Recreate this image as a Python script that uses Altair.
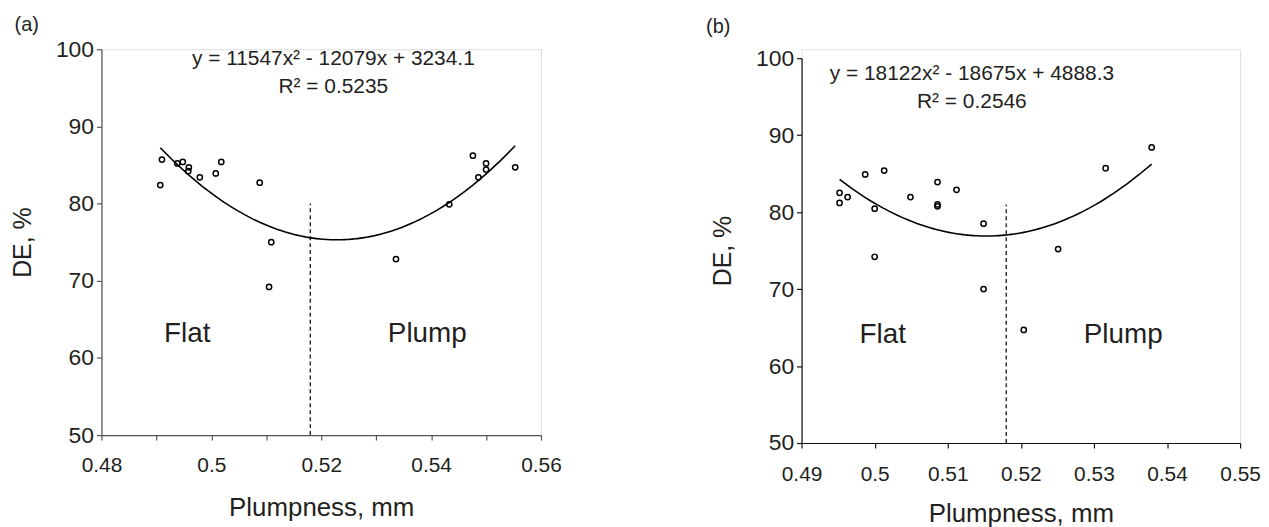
import altair as alt
import pandas as pd

# ---------------- data ----------------
# Panel (a)
a_x = [0.4910, 0.4907, 0.4938, 0.4948, 0.4959, 0.4958, 0.4979, 0.5008, 0.5018,
       0.5088, 0.5109, 0.5105, 0.5336, 0.5433, 0.5476, 0.5486, 0.5500, 0.5500, 0.5553]
a_y = [85.7, 82.4, 85.2, 85.4, 84.7, 84.2, 83.4, 83.9, 85.4,
       82.7, 75.0, 69.2, 72.8, 79.9, 86.2, 83.4, 85.2, 84.4, 84.7]
# Panel (b)
b_x = [0.4952, 0.4952, 0.4963, 0.4987, 0.5013, 0.5000, 0.5000, 0.5049, 0.5086,
       0.5086, 0.5086, 0.5112, 0.5149, 0.5149, 0.5204, 0.5251, 0.5316, 0.5379]
b_y = [82.5, 81.2, 81.95, 84.9, 85.4, 80.45, 74.2, 81.95, 83.9,
       81.0, 80.75, 82.9, 78.5, 70.0, 64.7, 75.2, 85.7, 88.4]

# divider (Flat / Plump boundary)
a_div = {"x": 0.518, "y": 50, "y2": 80}
b_div = {"x": 0.518, "y": 50, "y2": 81}

# axis ticks
a_xticks = [0.48, 0.485, 0.49, 0.495, 0.50, 0.505, 0.51, 0.515, 0.52, 0.525,
            0.53, 0.535, 0.54, 0.545, 0.55, 0.555, 0.56]
b_xticks = [0.49, 0.495, 0.50, 0.505, 0.51, 0.515, 0.52, 0.525, 0.53, 0.535,
            0.54, 0.545, 0.55]
y_ticks = [50, 60, 70, 80, 90, 100]

# annotations
a_eq = ["y = 11547x\u00b2 - 12079x + 3234.1", "R\u00b2 = 0.5235"]
b_eq = ["y = 18122x\u00b2 - 18675x + 4888.3", "R\u00b2 = 0.2546"]
a_eq_pos = {"x": [0.5222, 0.5222], "y": [98.7, 95.1]}
b_eq_pos = {"x": [0.5133, 0.5133], "y": [97.9, 94.3]}
regions = ["Flat", "Plump"]
a_reg_pos = {"x": [0.4956, 0.5393], "y": [63.1, 63.1]}
b_reg_pos = {"x": [0.5011, 0.5340], "y": [64.0, 64.0]}
a_tag = {"label": "(a)", "x": 0.4664, "y": 103.1}
b_tag = {"label": "(b)", "x": 0.4786, "y": 104.0}

FONT = "Liberation Sans"
INK = "#231f20"


def panel(xs, ys, div, xticks, step_mult, xdom, width, height, yrange,
          eq, eq_pos, reg_pos, tag, axis_col, lab_pad, tit_pad):
    df = pd.DataFrame({"x": xs, "y": ys})
    xscale = alt.Scale(domain=xdom, zero=False, nice=False)
    yscale = alt.Scale(domain=[50, 100], zero=False, nice=False, range=yrange)
    label_expr = ("(abs(datum.value*%d - round(datum.value*%d)) < 0.001) ? "
                  "format(datum.value, '.2~f') : ''" % (step_mult, step_mult))
    xaxis = alt.Axis(values=xticks, labelExpr=label_expr, title="Plumpness, mm",
                     grid=False, tickSize=5, labelFontSize=21, titleFontSize=26,
                     labelFont=FONT, titleFont=FONT, labelColor=INK, titleColor=INK,
                     titleFontWeight="normal", labelPadding=lab_pad, titlePadding=tit_pad,
                     labelFlush=False, labelOverlap=False, domainColor=axis_col,
                     tickColor=axis_col, domainWidth=1.2, tickWidth=1.2)
    yaxis = alt.Axis(values=y_ticks, title="DE, %", grid=False, tickSize=5,
                     labelFontSize=23, titleFontSize=25, labelFont=FONT, titleFont=FONT,
                     labelColor=INK, titleColor=INK, titleFontWeight="normal",
                     labelPadding=3, titlePadding=20, domainColor=axis_col,
                     tickColor=axis_col, domainWidth=1.2, tickWidth=1.2)

    pts = alt.Chart(df).mark_point(shape="circle", filled=False, color="black",
                                   size=28, strokeWidth=1.5, opacity=1).encode(
        x=alt.X("x:Q", scale=xscale, axis=xaxis),
        y=alt.Y("y:Q", scale=yscale, axis=yaxis),
    )
    fit = alt.Chart(df).transform_regression(
        "x", "y", method="poly", order=2
    ).mark_line(color="black", strokeWidth=1.6).encode(x="x:Q", y="y:Q")

    div_df = pd.DataFrame([div])
    rule = alt.Chart(div_df).mark_rule(color="black", strokeWidth=1.2,
                                       strokeDash=[4, 3]).encode(
        x="x:Q", y="y:Q", y2="y2:Q")

    eq_df = pd.DataFrame({"label": eq, "x": eq_pos["x"], "y": eq_pos["y"]})
    eq_txt = alt.Chart(eq_df).mark_text(font=FONT, fontSize=21, color=INK,
                                        align="center", baseline="middle").encode(
        x="x:Q", y="y:Q", text="label:N")

    reg_df = pd.DataFrame({"label": regions, "x": reg_pos["x"], "y": reg_pos["y"]})
    reg_txt = alt.Chart(reg_df).mark_text(font=FONT, fontSize=28, color=INK,
                                          align="center", baseline="middle").encode(
        x="x:Q", y="y:Q", text="label:N")

    tag_df = pd.DataFrame([tag])
    tag_txt = alt.Chart(tag_df).mark_text(font=FONT, fontSize=20, color=INK,
                                          align="center", baseline="middle").encode(
        x="x:Q", y="y:Q", text="label:N")

    return alt.layer(pts, fit, rule, eq_txt, reg_txt, tag_txt).properties(
        width=width, height=height)


pa = panel(a_x, a_y, a_div, a_xticks, 50, [0.48, 0.56], 442, 388, [388, 0],
           a_eq, a_eq_pos, a_reg_pos, a_tag, "#555555", 15, 19)
pb = panel(b_x, b_y, b_div, b_xticks, 100, [0.49, 0.55], 441, 396, [396, 9],
           b_eq, b_eq_pos, b_reg_pos, b_tag, "#111111", 16, 16)

chart = alt.hconcat(pa, pb, spacing=262, bounds="flush").properties(
    padding={"left": 2, "top": 5, "right": 0, "bottom": 0}
).configure_view(stroke=None).configure(background="white")

chart.save("out.html", embed_options={"renderer": "svg", "actions": False})
